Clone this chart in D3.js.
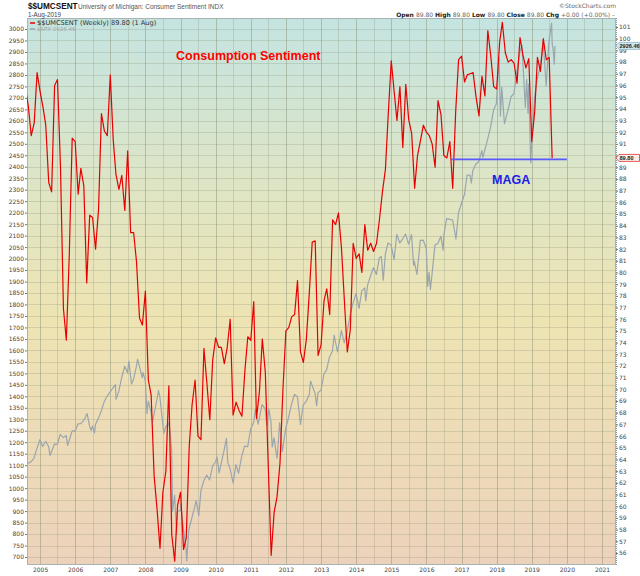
<!DOCTYPE html>
<html lang="en">
<head>
<meta charset="UTF-8">
<title>$$UMCSENT vs $SPX</title>
<script src="https://d3js.org/d3.v7.min.js"></script>
<style>
    body { margin: 0; padding: 0; background: #fff; }
    svg { display: block; font-family: "DejaVu Sans", sans-serif; }
    .axis path { display: none; }
    .axis line { stroke: #777; }
    .axis text { font-size: 6px; fill: #444; font-family: "DejaVu Sans", sans-serif; }
</style>
</head>
<body>
<div id="chart"></div>
<script>
    // University of Michigan consumer sentiment, one value per month from Aug 2004
    const umcsStart = "2004-08-01";
    const umcsValues = [
        95.9, 94.2, 91.7, 92.8, 97.1,
        95.5, 94.1, 92.6, 87.7, 86.9, 96.0, 96.5, 89.1, 76.9, 74.2, 81.6, 91.5,
        91.2, 86.7, 88.9, 87.4, 79.1, 84.9, 84.7, 82.0, 85.4, 93.6, 92.1, 91.7,
        96.9, 91.3, 88.4, 87.1, 88.3, 85.3, 90.4, 83.4, 83.4, 80.9, 76.1, 75.5,
        78.4, 70.8, 69.5, 62.6, 59.8, 56.4, 61.2, 63.0, 70.3, 57.6, 55.3, 60.1,
        61.2, 56.3, 57.3, 65.1, 68.7, 70.8, 66.0, 65.7, 73.5, 70.6, 67.4, 72.5,
        74.4, 73.6, 73.6, 72.2, 73.6, 76.0, 67.8, 68.9, 68.2, 67.7, 71.6, 74.5,
        74.2, 77.5, 67.5, 69.8, 74.3, 71.5, 63.7, 55.8, 59.5, 60.8, 63.7, 69.9,
        75.0, 75.3, 76.2, 76.4, 79.3, 73.2, 72.3, 74.3, 78.3, 82.6, 82.7, 72.9,
        73.8, 77.6, 78.6, 76.4, 84.5, 84.1, 85.1, 82.1, 77.5, 73.2, 75.1, 82.5,
        81.2, 81.6, 80.0, 84.1, 81.9, 82.5, 81.8, 82.5, 84.6, 86.9, 88.8, 93.6,
        98.1, 95.4, 93.0, 95.9, 90.7, 96.1, 93.1, 91.9, 87.2, 90.0, 91.3, 92.6,
        92.0, 91.7, 91.0, 89.0, 94.7, 93.5, 90.0, 89.8, 91.2, 87.2, 93.8, 98.2,
        98.5, 96.3, 96.9, 97.0, 97.1, 95.0, 93.4, 96.8, 95.1, 100.7, 98.5, 95.9,
        95.7, 99.7, 101.4, 98.8, 98.0, 98.2, 97.9, 96.2, 100.1, 98.6, 97.5, 98.3,
        91.2, 93.8, 98.4, 97.2, 100.0, 98.2, 98.4, 89.8
    ];

    // S&P 500 closes
    const spxDates = [
        "2004-08-27", "2004-09-30", "2004-10-29", "2004-11-30", "2004-12-31",
        "2005-01-28", "2005-02-28", "2005-03-31", "2005-04-15", "2005-04-29", "2005-05-31", "2005-06-30",
        "2005-07-29", "2005-08-31", "2005-09-30", "2005-10-14", "2005-10-31", "2005-11-30", "2005-12-30",
        "2006-01-31", "2006-02-28", "2006-03-31", "2006-05-05", "2006-05-31", "2006-06-16", "2006-06-30",
        "2006-07-21", "2006-07-31", "2006-08-31", "2006-09-29", "2006-10-31", "2006-11-30", "2006-12-29",
        "2007-01-31", "2007-02-23", "2007-03-02", "2007-03-30", "2007-04-30", "2007-05-31", "2007-06-29",
        "2007-07-13", "2007-08-10", "2007-08-31", "2007-09-28", "2007-10-12", "2007-11-30", "2007-12-07", "2007-12-31",
        "2008-01-18", "2008-01-31", "2008-02-29", "2008-03-14", "2008-03-31", "2008-04-30", "2008-05-16", "2008-05-30",
        "2008-06-30", "2008-07-11", "2008-07-31", "2008-08-29", "2008-09-12", "2008-09-30", "2008-10-10", "2008-10-31",
        "2008-11-21", "2008-11-28", "2008-12-31",
        "2009-01-02", "2009-01-30", "2009-02-27", "2009-03-06", "2009-03-27", "2009-04-30", "2009-05-29", "2009-06-12",
        "2009-07-10", "2009-07-31", "2009-08-28", "2009-09-30", "2009-10-30", "2009-11-30", "2009-12-31",
        "2010-01-15", "2010-02-05", "2010-02-26", "2010-03-31", "2010-04-23", "2010-05-07", "2010-05-28", "2010-07-02",
        "2010-07-30", "2010-08-27", "2010-09-30", "2010-10-29", "2010-11-30", "2010-12-31",
        "2011-01-31", "2011-02-18", "2011-03-18", "2011-04-29", "2011-05-31", "2011-06-17", "2011-07-08", "2011-07-29",
        "2011-08-12", "2011-08-31", "2011-09-30", "2011-10-07", "2011-10-28", "2011-11-25", "2011-12-30",
        "2012-01-31", "2012-02-29", "2012-03-30", "2012-04-30", "2012-06-01", "2012-06-29", "2012-07-31", "2012-08-31",
        "2012-09-14", "2012-10-31", "2012-11-16", "2012-11-30", "2012-12-31",
        "2013-01-31", "2013-02-28", "2013-03-28", "2013-04-30", "2013-05-17", "2013-06-21", "2013-07-31", "2013-08-30",
        "2013-09-30", "2013-10-04", "2013-10-31", "2013-11-29", "2013-12-31",
        "2014-01-31", "2014-02-28", "2014-03-31", "2014-04-11", "2014-04-30", "2014-05-30", "2014-06-30", "2014-07-31",
        "2014-08-29", "2014-09-19", "2014-10-10", "2014-10-31", "2014-11-28", "2014-12-31",
        "2015-01-30", "2015-02-27", "2015-03-31", "2015-04-30", "2015-05-29", "2015-06-30", "2015-07-31", "2015-08-21",
        "2015-08-28", "2015-09-25", "2015-10-30", "2015-11-30", "2015-12-31",
        "2016-01-15", "2016-01-29", "2016-02-12", "2016-02-29", "2016-03-31", "2016-04-29", "2016-05-31", "2016-06-24",
        "2016-06-30", "2016-07-29", "2016-08-31", "2016-09-30", "2016-11-04", "2016-11-30", "2016-12-30",
        "2017-01-31", "2017-02-28", "2017-03-31", "2017-04-13", "2017-04-28", "2017-05-31", "2017-06-30", "2017-07-31",
        "2017-08-11", "2017-08-31", "2017-09-29", "2017-10-31", "2017-11-30", "2017-12-29",
        "2018-01-26", "2018-02-09", "2018-02-23", "2018-03-23", "2018-04-30", "2018-05-31", "2018-06-29", "2018-07-31",
        "2018-08-31", "2018-09-21", "2018-10-26", "2018-11-09", "2018-11-23", "2018-11-30", "2018-12-21", "2018-12-31",
        "2019-01-31", "2019-02-28", "2019-03-29", "2019-04-30", "2019-05-31", "2019-06-28", "2019-07-26", "2019-08-02",
        "2019-08-09", "2019-08-16", "2019-08-23", "2019-08-30"
    ];
    const spxValues = [
        1107, 1115, 1130, 1174, 1212,
        1181, 1204, 1181, 1142, 1157, 1192, 1191,
        1234, 1220, 1229, 1186, 1207, 1249, 1248,
        1280, 1281, 1295, 1325, 1270, 1252, 1270,
        1240, 1277, 1304, 1336, 1378, 1401, 1418,
        1438, 1451, 1387, 1421, 1482, 1531, 1503,
        1552, 1453, 1474, 1527, 1561, 1481, 1504, 1468,
        1325, 1379, 1331, 1288, 1323, 1386, 1425, 1400,
        1280, 1239, 1267, 1283, 1252, 1166, 899, 969,
        800, 896, 903,
        932, 826, 735, 683, 816, 873, 919, 946,
        880, 987, 1029, 1057, 1036, 1096, 1115,
        1136, 1066, 1104, 1169, 1217, 1111, 1089, 1022,
        1102, 1065, 1141, 1183, 1181, 1258,
        1286, 1343, 1279, 1364, 1345, 1272, 1344, 1292,
        1179, 1219, 1131, 1155, 1285, 1159, 1258,
        1312, 1366, 1408, 1398, 1278, 1362, 1379, 1407,
        1466, 1412, 1359, 1416, 1426,
        1498, 1515, 1569, 1598, 1667, 1593, 1686, 1633,
        1682, 1691, 1757, 1806, 1848,
        1783, 1859, 1872, 1816, 1884, 1924, 1960, 1931,
        2003, 2010, 1906, 2018, 2068, 2059,
        1995, 2105, 2068, 2086, 2107, 2063, 2104, 1971,
        1989, 1931, 2079, 2080, 2044,
        1880, 1940, 1865, 1932, 2060, 2065, 2097, 2037,
        2099, 2174, 2171, 2168, 2085, 2199, 2239,
        2279, 2364, 2363, 2329, 2384, 2412, 2423, 2470,
        2441, 2472, 2519, 2575, 2648, 2674,
        2873, 2620, 2747, 2588, 2648, 2705, 2718, 2816,
        2902, 2930, 2658, 2781, 2633, 2760, 2417, 2507,
        2704, 2784, 2834, 2946, 2752, 2942, 3026, 2932,
        2919, 2889, 2847, 2926.46
    ];

    const yearTicks = d3.range(2005, 2022);
    const leftTicks = d3.range(700, 3001, 50);
    const rightTicks = d3.range(56, 102);

    const lastUmcs = 89.8;
    const lastSpx = 2926.46;

    // the blue "MAGA" level line
    const magaLevel = 89.8;
    const magaFrom = "2016-09-15";
    const magaTo = "2020-01-01";

    const W = 640, H = 576;
    const plot = {left: 27, right: 616, top: 18, bottom: 565};

    const svg = d3.select("#chart").append("svg")
        .attr("width", W)
        .attr("height", H);

    const parse = d3.timeParse("%Y-%m-%d");
    const startMonth = parse(umcsStart);
    const umcs = umcsValues.map((v, i) => ({date: d3.timeMonth.offset(startMonth, i), value: v}));
    const spx = spxDates.map((d, i) => ({date: parse(d), value: spxValues[i]}));

    const x = d3.scaleTime()
        .domain([new Date(2004, 7, 18), new Date(2021, 4, 26)])
        .range([plot.left, plot.right]);
    const yL = d3.scaleLinear().domain([700, 3000]).range([557, 29]);
    const yR = d3.scaleLinear().domain([56, 101]).range([553, 27]);

    // background gradient
    const defs = svg.append("defs");
    const grad = defs.append("linearGradient")
        .attr("id", "bg")
        .attr("x1", "0%").attr("x2", "0%")
        .attr("y1", "0%").attr("y2", "100%");
    [["0%", "#c4e4e1"], ["33%", "#e0e5c3"], ["55%", "#eee4b3"], ["100%", "#ecd2bb"]].forEach(s => {
        grad.append("stop").attr("offset", s[0]).attr("stop-color", s[1]);
    });
    defs.append("clipPath").attr("id", "clip")
        .append("rect")
        .attr("x", plot.left).attr("y", plot.top)
        .attr("width", plot.right - plot.left)
        .attr("height", plot.bottom - plot.top);

    svg.append("rect")
        .attr("x", plot.left).attr("y", plot.top)
        .attr("width", plot.right - plot.left)
        .attr("height", plot.bottom - plot.top)
        .attr("fill", "url(#bg)");

    // grid
    const grid = svg.append("g").attr("clip-path", "url(#clip)");
    grid.selectAll(".hg")
        .data(leftTicks)
        .enter().append("line")
        .attr("x1", plot.left).attr("x2", plot.right)
        .attr("y1", d => Math.round(yL(d)) + 0.5)
        .attr("y2", d => Math.round(yL(d)) + 0.5)
        .attr("stroke", "#8c9478")
        .attr("stroke-opacity", 0.28);
    const halfYears = [];
    d3.range(2004, 2022).forEach(y => {
        halfYears.push(new Date(y, 6, 1));
    });
    grid.selectAll(".vm")
        .data(halfYears)
        .enter().append("line")
        .attr("y1", plot.top).attr("y2", plot.bottom)
        .attr("x1", d => Math.round(x(d)) + 0.5)
        .attr("x2", d => Math.round(x(d)) + 0.5)
        .attr("stroke", "#8c9478")
        .attr("stroke-opacity", 0.28);
    grid.selectAll(".vy")
        .data(yearTicks)
        .enter().append("line")
        .attr("y1", plot.top).attr("y2", plot.bottom)
        .attr("x1", d => Math.round(x(new Date(d, 0, 1))) + 0.5)
        .attr("x2", d => Math.round(x(new Date(d, 0, 1))) + 0.5)
        .attr("stroke", "#8c9478")
        .attr("stroke-opacity", 0.5);

    // frame
    svg.append("rect")
        .attr("x", plot.left + 0.5).attr("y", plot.top + 0.5)
        .attr("width", plot.right - plot.left - 1)
        .attr("height", plot.bottom - plot.top - 1)
        .attr("fill", "none")
        .attr("stroke", "#a8b4b4");
    svg.append("line")
        .attr("x1", plot.right + 0.5).attr("x2", plot.right + 0.5)
        .attr("y1", plot.top).attr("y2", plot.bottom)
        .attr("stroke", "#7d9aa6")
        .attr("stroke-dasharray", "1,1");

    // axes
    svg.append("g")
        .attr("class", "axis")
        .attr("transform", `translate(${plot.left},0)`)
        .call(d3.axisLeft(yL).tickValues(leftTicks).tickSize(2).tickPadding(1).tickFormat(d3.format("d")));
    // the 90 label sits under the last-value tag, as in the reference
    const rightAxis = svg.append("g")
        .attr("class", "axis")
        .attr("transform", `translate(${plot.right},0)`)
        .call(d3.axisRight(yR).tickValues(rightTicks).tickSize(2).tickPadding(1).tickFormat(d3.format("d")));
    rightAxis.selectAll(".tick text")
        .filter(d => Math.abs(yR(d) - yR(lastUmcs)) < 5)
        .remove();
    svg.append("g")
        .attr("class", "axis")
        .attr("transform", `translate(0,${plot.bottom})`)
        .call(d3.axisBottom(x)
            .tickValues(yearTicks.map(y => new Date(y, 0, 1)))
            .tickSize(0).tickPadding(3)
            .tickFormat(d3.timeFormat("%Y")));

    // series
    const series = svg.append("g").attr("clip-path", "url(#clip)");
    series.append("path")
        .datum(spx)
        .attr("fill", "none")
        .attr("stroke", "#9aa6ae")
        .attr("stroke-width", 1.2)
        .attr("stroke-linejoin", "round")
        .attr("d", d3.line().x(d => x(d.date)).y(d => yL(d.value)));
    series.append("path")
        .datum(umcs)
        .attr("fill", "none")
        .attr("stroke", "#e60000")
        .attr("stroke-width", 1.2)
        .attr("stroke-linejoin", "round")
        .attr("d", d3.line().x(d => x(d.date)).y(d => yR(d.value)));

    // MAGA line
    svg.append("line")
        .attr("x1", x(parse(magaFrom))).attr("x2", x(parse(magaTo)))
        .attr("y1", yR(magaLevel) + 1.5).attr("y2", yR(magaLevel) + 1.5)
        .attr("stroke", "#5a5aff")
        .attr("stroke-width", 1.6);

    // annotations
    svg.append("text")
        .attr("x", 176).attr("y", 60)
        .attr("font-family", "Liberation Sans, Arial, sans-serif")
        .attr("font-weight", "bold")
        .attr("font-size", 12.5)
        .attr("fill", "#ff0000")
        .text("Consumption Sentiment");
    svg.append("text")
        .attr("x", 492).attr("y", 184)
        .attr("font-family", "Liberation Sans, Arial, sans-serif")
        .attr("font-weight", "bold")
        .attr("font-size", 12.5)
        .attr("fill", "#1c1ce6")
        .text("MAGA");

    // legend inside plot
    svg.append("line")
        .attr("x1", 30).attr("x2", 35).attr("y1", 23).attr("y2", 23)
        .attr("stroke", "#e60000").attr("stroke-width", 1.5);
    svg.append("text")
        .attr("x", 37).attr("y", 25)
        .attr("font-size", 6.6).attr("fill", "#333")
        .text("$$UMCSENT (Weekly) 89.80 (1 Aug)");
    svg.append("line")
        .attr("x1", 30).attr("x2", 35).attr("y1", 29).attr("y2", 29)
        .attr("stroke", "#9aa6ae").attr("stroke-width", 1.5);
    svg.append("text")
        .attr("x", 37).attr("y", 31)
        .attr("font-size", 5.5).attr("fill", "#a0a8a8")
        .text("$SPX 2926.46");

    // header
    svg.append("text")
        .attr("x", 28).attr("y", 9)
        .attr("font-family", "Liberation Sans, Arial, sans-serif")
        .attr("font-weight", "bold")
        .attr("font-size", 8.2)
        .attr("fill", "#111")
        .text("$$UMCSENT");
    svg.append("text")
        .attr("x", 78).attr("y", 8.5)
        .attr("font-family", "Liberation Sans, Arial, sans-serif")
        .attr("font-size", 6.5)
        .attr("fill", "#555")
        .text("University of Michigan: Consumer Sentiment INDX");
    svg.append("text")
        .attr("x", 28).attr("y", 16.5)
        .attr("font-family", "Liberation Sans, Arial, sans-serif")
        .attr("font-size", 6.3)
        .attr("fill", "#444")
        .text("1-Aug-2019");

    svg.append("text")
        .attr("x", 616).attr("y", 8)
        .attr("text-anchor", "end")
        .attr("font-size", 6)
        .attr("fill", "#666")
        .text("\u00a9StockCharts.com");

    const ohlc = [["Open ", "89.80 "], ["High ", "89.80 "], ["Low ", "89.80 "], ["Close ", "89.80 "], ["Chg ", "+0.00 (+0.00%) \u2013"]];
    const info = svg.append("text")
        .attr("x", 615).attr("y", 16.5)
        .attr("text-anchor", "end")
        .attr("font-size", 6)
        .attr("xml:space", "preserve");
    ohlc.forEach(p => {
        info.append("tspan").attr("font-weight", "bold").attr("fill", "#222").text(p[0]);
        info.append("tspan").attr("fill", "#666").text(p[1]);
    });

    // last value tags on the right axis
    function tag(yv, label, fill, stroke) {
        const g = svg.append("g").attr("transform", `translate(${plot.right},${yv})`);
        g.append("path")
            .attr("d", "M0,0 L3,-3.5 L23.5,-3.5 L23.5,3.5 L3,3.5 Z")
            .attr("fill", fill)
            .attr("stroke", stroke)
            .attr("stroke-width", 0.8);
        g.append("text")
            .attr("x", 3.5).attr("y", 2)
            .attr("font-family", "Liberation Sans, Arial, sans-serif")
            .attr("font-size", 5.6)
            .attr("font-weight", "bold")
            .attr("fill", "#222")
            .text(label);
    }
    tag(yL(lastSpx), d3.format(".2f")(lastSpx), "#d3e8ee", "#8fb4c0");
    tag(yR(lastUmcs), d3.format(".2f")(lastUmcs), "#fbeee8", "#e03030");
</script>
</body>
</html>
